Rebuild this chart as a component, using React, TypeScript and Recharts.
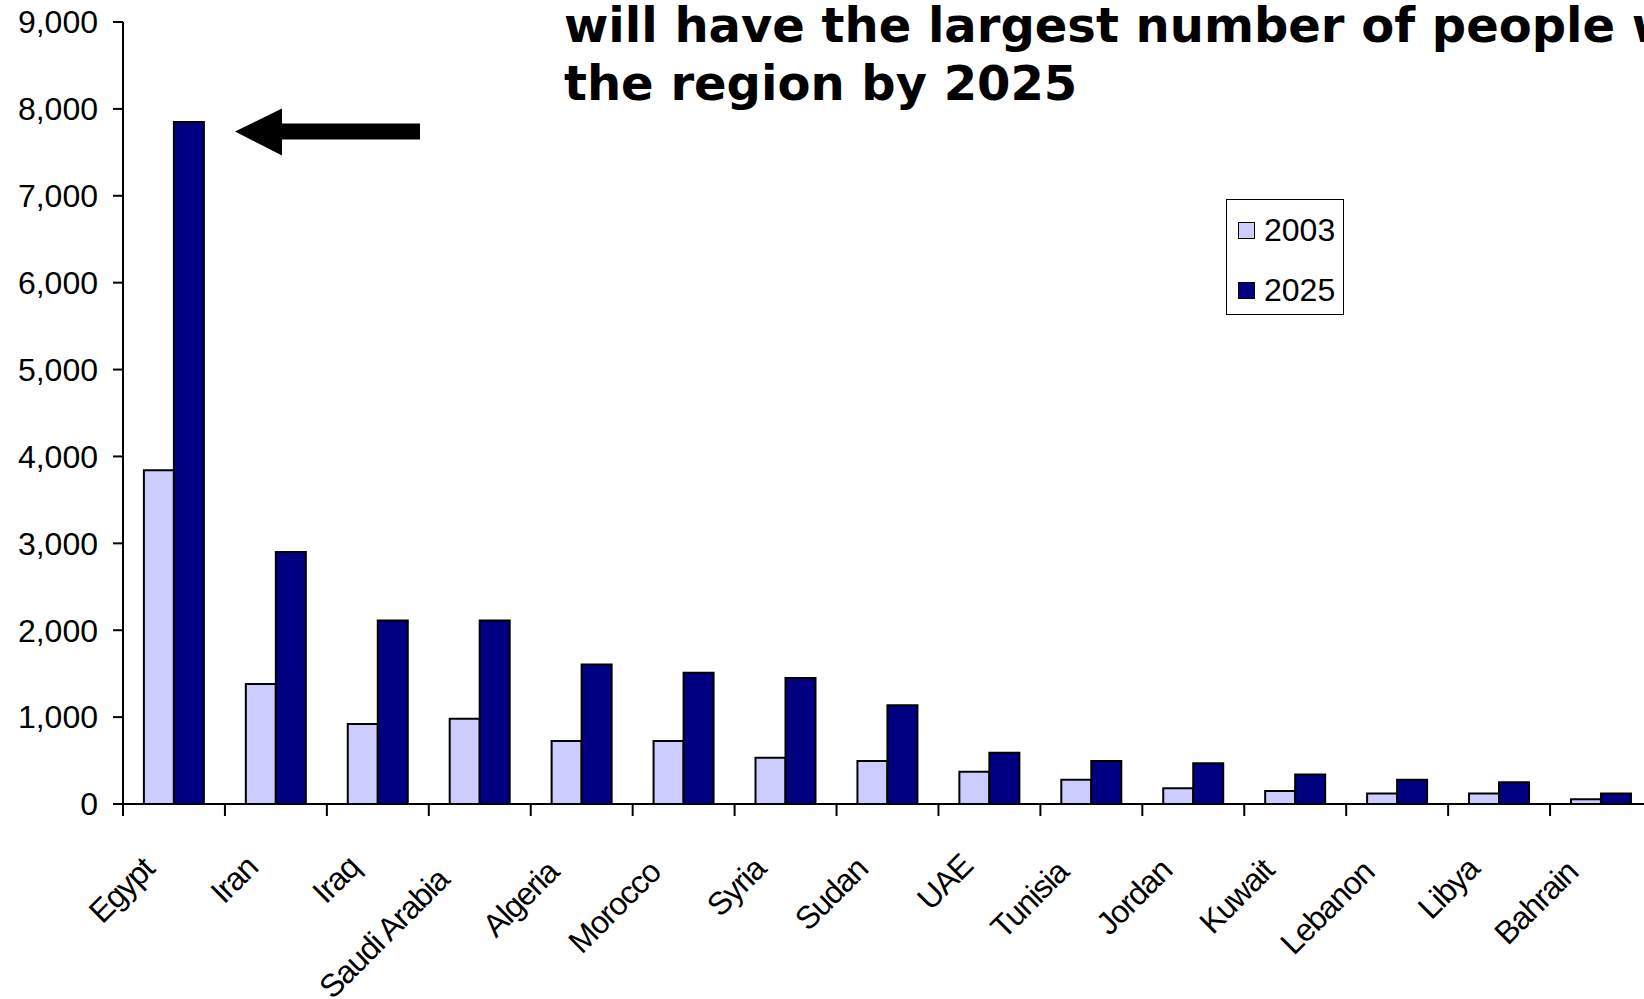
import React from 'react';
import { BarChart, Bar, XAxis, YAxis, Legend } from 'recharts';

const categories = ['Egypt', 'Iran', 'Iraq', 'Saudi Arabia', 'Algeria', 'Morocco', 'Syria', 'Sudan', 'UAE', 'Tunisia', 'Jordan', 'Kuwait', 'Lebanon', 'Libya', 'Bahrain'];
const values2003 = [3840, 1380, 920, 980, 725, 725, 533, 496, 370, 280, 180, 150, 120, 120, 55];
const values2025 = [7850, 2900, 2113, 2113, 1606, 1510, 1449, 1136, 590, 495, 470, 340, 280, 250, 120];
const yTicks = [0, 1000, 2000, 3000, 4000, 5000, 6000, 7000, 8000, 9000];
const seriesNames = ['2003', '2025'];
const titleLines = ['will have the largest number of people with diabetes in', 'the region by 2025'];

const COLOR_2003 = '#CCCCFF';
const COLOR_2025 = '#000080';
const FONT = '"Liberation Sans", Arial, sans-serif';

const data = categories.map((c, i) => ({ name: c, v2003: values2003[i], v2025: values2025[i] }));

const XTick = (props: any) => {
  const { x, y, payload } = props;
  const off = payload && typeof payload.offset === 'number' ? payload.offset : 0;
  const bx = x - off;
  const label = String(payload.value);
  const back = 0.14 * (label.length * 16 - 90);
  return (
    <g>
      <line x1={bx} y1={y} x2={bx} y2={y + 12} stroke="#000" strokeWidth={2} />
      <text
        transform={`translate(${x - 19},${y + 68}) rotate(-45)`}
        x={-back}
        y={0}
        textAnchor="end"
        fontFamily={FONT}
        fontSize={32}
        letterSpacing={-1.2}
        fill="#000"
      >
        {label}
      </text>
    </g>
  );
};

const LegendBox = () => (
  <div
    style={{
      position: 'relative',
      width: 118,
      height: 116,
      border: '1.5px solid #000',
      boxSizing: 'border-box',
      background: '#fff',
      fontFamily: FONT,
      fontSize: 32,
      color: '#000',
    }}
  >
    {seriesNames.map((n, i) => (
      <div
        key={n}
        style={{ position: 'absolute', left: 11, top: 9 + i * 60, height: 42, display: 'flex', alignItems: 'center' }}
      >
        <div
          style={{
            width: 17,
            height: 17,
            boxSizing: 'border-box',
            border: '1.5px solid #000',
            background: i === 0 ? COLOR_2003 : COLOR_2025,
            marginRight: 9,
          }}
        />
        <span style={{ lineHeight: '42px' }}>{n}</span>
      </div>
    ))}
  </div>
);

export default function App() {
  return (
    <div style={{ position: 'absolute', left: 0, top: 0, width: 1644, height: 999, overflow: 'hidden', background: '#fff' }}>
      <BarChart
        width={1660}
        height={999}
        data={data}
        margin={{ top: 22, right: 8, left: 0, bottom: 0 }}
        barCategoryGap="20.5%"
        barGap={0}
      >
        <XAxis
          dataKey="name"
          height={195}
          interval={0}
          tickLine={false}
          tickSize={0}
          tickMargin={0}
          axisLine={{ stroke: '#000', strokeWidth: 2 }}
          tick={<XTick />}
        />
        <YAxis
          width={123}
          domain={[0, 9000]}
          ticks={yTicks}
          interval={0}
          tickSize={10}
          tickMargin={15}
          axisLine={{ stroke: '#000', strokeWidth: 2 }}
          tickLine={{ stroke: '#000', strokeWidth: 2 }}
          tick={{ fill: '#000', fontSize: 32, fontFamily: FONT }}
          tickFormatter={(v: number) => v.toLocaleString('en-US')}
        />
        <Legend
          layout="vertical"
          align="center"
          verticalAlign="middle"
          wrapperStyle={{ position: 'absolute', left: 1226, top: 199, width: 118, height: 116 }}
          content={<LegendBox />}
        />
        <Bar dataKey="v2003" name="2003" fill={COLOR_2003} stroke="#000" strokeWidth={2} isAnimationActive={false} />
        <Bar dataKey="v2025" name="2025" fill={COLOR_2025} stroke="#000" strokeWidth={2} isAnimationActive={false} />
      </BarChart>
      <svg width={1644} height={999} style={{ position: 'absolute', left: 0, top: 0, pointerEvents: 'none' }}>
        <polygon points="235,131.5 282,108.5 282,123.5 420,123.5 420,139.5 282,139.5 282,155.5" fill="#000" />
        {titleLines.map((t, i) => (
          <text
            key={i}
            x={564}
            y={42 + i * 58}
            fontFamily='"DejaVu Sans", Verdana, sans-serif'
            fontWeight="bold"
            fontSize={48}
            fill="#000"
          >
            {t}
          </text>
        ))}
      </svg>
    </div>
  );
}
